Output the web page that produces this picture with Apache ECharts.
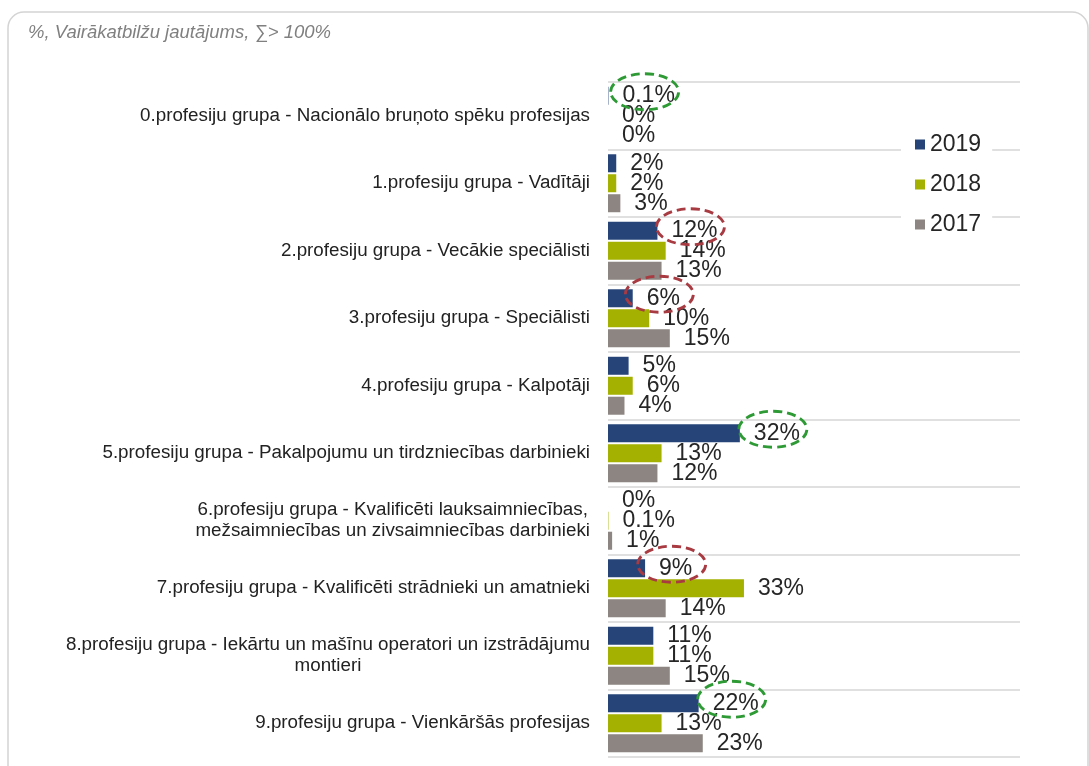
<!DOCTYPE html>
<html>
<head>
<meta charset="utf-8">
<script src="https://cdn.jsdelivr.net/npm/echarts@6/dist/echarts.min.js"></script>
<style>
  html, body { margin: 0; padding: 0; background: #fff; }
  #chart { width: 1089px; height: 766px; }
</style>
</head>
<body>
<div id="chart"></div>
<script>
// profesiju grupas (top to bottom)
const categories = [
  "0.profesiju grupa - Nacionālo bruņoto spēku profesijas",
  "1.profesiju grupa - Vadītāji",
  "2.profesiju grupa - Vecākie speciālisti",
  "3.profesiju grupa - Speciālisti",
  "4.profesiju grupa - Kalpotāji",
  "5.profesiju grupa - Pakalpojumu un tirdzniecības darbinieki",
  "6.profesiju grupa - Kvalificēti lauksaimniecības,\nmežsaimniecības un zivsaimniecības darbinieki",
  "7.profesiju grupa - Kvalificēti strādnieki un amatnieki",
  "8.profesiju grupa - Iekārtu un mašīnu operatori un izstrādājumu\nmontieri",
  "9.profesiju grupa - Vienkāršās profesijas"
];
const years = ["2019", "2018", "2017"];
const values2019 = [0.1, 2, 12, 6, 5, 32, 0, 9, 11, 22];
const values2018 = [0, 2, 14, 10, 6, 13, 0.1, 33, 11, 13];
const values2017 = [0, 3, 13, 15, 4, 12, 1, 14, 15, 23];
const colors = ["#264478", "#a5b100", "#8c8581"];

// labels circled in the original: [series index, category index, colour]
const circled = [
  [0, 0, "#2e9a35"],
  [0, 5, "#2e9a35"],
  [0, 9, "#2e9a35"],
  [0, 2, "#a83a42"],
  [0, 3, "#a83a42"],
  [0, 7, "#a83a42"]
];

const FONT = "'Liberation Sans', Arial, sans-serif";
const LABEL_SIZE = 23;
const LABEL_DIST = 14;

const seriesValues = [values2019, values2018, values2017];

const chart = echarts.init(document.getElementById("chart"));

const option = {
  animation: false,
  backgroundColor: "#fff",
  title: {
    text: "%, Vairākatbilžu jautājums, ∑> 100%",
    left: 28,
    top: 23,
    padding: 0,
    textStyle: {
      fontFamily: FONT,
      fontStyle: "italic",
      fontWeight: "normal",
      fontSize: 18.5,
      color: "#808080"
    }
  },
  legend: {
    data: years,
    orient: "vertical",
    left: 901,
    top: 121,
    padding: [12, 11, 12, 14],
    backgroundColor: "#fff",
    icon: "rect",
    itemWidth: 10,
    itemHeight: 10,
    itemGap: 17,
    textStyle: { fontFamily: FONT, fontSize: 23, color: "#262626" }
  },
  grid: {
    left: 608,
    right: 69,
    top: 82,
    bottom: 9,
    outerBoundsMode: "none"
  },
  xAxis: {
    type: "value",
    min: 0,
    max: 100,
    show: false
  },
  yAxis: {
    type: "category",
    inverse: true,
    data: categories,
    axisLine: { show: false },
    axisTick: { show: false },
    splitLine: { show: true, lineStyle: { color: "#d6d6d6", width: 1.5 } },
    axisLabel: {
      margin: 18,
      formatter: function (v) {
        return v.split("\n").map(function (l) { return "{c|" + l + "}"; }).join("\n");
      },
      rich: {
        c: {
          fontFamily: FONT,
          fontSize: 18.8,
          lineHeight: 21,
          color: "#222",
          align: "center"
        }
      }
    }
  },
  series: years.map(function (y, i) {
    return {
      name: y,
      type: "bar",
      data: seriesValues[i],
      barWidth: 18,
      barGap: "11%",
      itemStyle: { color: colors[i] },
      label: {
        show: true,
        position: "right",
        distance: LABEL_DIST,
        fontFamily: FONT,
        fontSize: LABEL_SIZE,
        color: "#262626",
        formatter: function (p) { return p.value + "%"; }
      }
    };
  })
};

chart.setOption(option);

// outer frame + dashed ellipses around selected labels
const ctx = document.createElement("canvas").getContext("2d");
ctx.font = LABEL_SIZE + "px " + FONT;

const graphics = [{
  type: "rect",
  shape: { x: 8, y: 12, width: 1080, height: 800, r: 16 },
  style: { fill: "none", stroke: "#d4d4d4", lineWidth: 1.5 },
  silent: true,
  z: 0
}];

circled.forEach(function (c) {
  const s = c[0], i = c[1];
  const layout = chart.getModel().getSeriesByIndex(s).getData().getItemLayout(i);
  const w = ctx.measureText(seriesValues[s][i] + "%").width;
  const cx = layout.x + layout.width + LABEL_DIST + w / 2 - 4;
  const cy = layout.y + layout.height / 2 - 4;
  graphics.push({
    type: "ellipse",
    shape: { cx: cx, cy: cy, rx: 34, ry: 18 },
    style: { fill: "none", stroke: c[2], lineWidth: 2.8, lineDash: [9, 5] },
    silent: true,
    z: 100
  });
});

chart.setOption({ graphic: graphics });
</script>
</body>
</html>
